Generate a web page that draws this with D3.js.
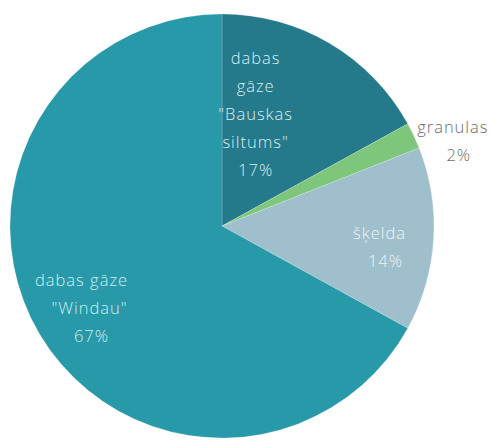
<!DOCTYPE html>
<html><head><meta charset="utf-8">
<script src="https://cdn.jsdelivr.net/npm/d3@7"></script>
<style>body{margin:0;background:#fff}svg{display:block}</style>
</head><body>
<svg id="c" width="492" height="441"></svg>
<script>
const categories = ["dabas gāze \"Bauskas siltums\"", "granulas", "šķelda", "dabas gāze \"Windau\""];
const values = [17, 2, 14, 67];
const labelLines = [["dabas", "gāze", "\"Bauskas", "siltums\"", "17%"], ["granulas", "2%"], ["šķelda", "14%"], ["dabas gāze", "\"Windau\"", "67%"]];
const colors = ["#247a8b", "#7ec67c", "#9ebfcb", "#2899a8"];
const labelColors = ["#d9eef0", "#6a6a6a", "#eef3f5", "#cfeef2"];
// label block centre: [angle (deg clockwise from top), radius]; per-line x shifts
const labelPolar = [[16.6, 116], [70.2, 248], [97.8, 161.5], [-121.6, 158.5]];
const lineShifts = [[0,0,0,0,0],[-3,3],[-3,3],[-6,2,4]];

const W = 492, H = 441, cx = 222, cy = 226, R = 212;
const svg = d3.select("#c");
const g = svg.append("g").attr("transform", `translate(${cx},${cy})`);
const pie = d3.pie().sort(null).value(d => d)(values);
const arc = d3.arc().innerRadius(0).outerRadius(R);
g.selectAll("path").data(pie).join("path")
  .attr("d", arc).attr("fill", (d,i) => colors[i])
  .attr("stroke", "#ffffff").attr("stroke-opacity", 0.3).attr("stroke-width", 0.6);

const lh = 28;
pie.forEach((d, i) => {
  const [a, r] = labelPolar[i];
  const rad = a * Math.PI / 180;
  const x0 = r * Math.sin(rad), y0 = -r * Math.cos(rad);
  const n = labelLines[i].length;
  const t = g.append("text").attr("text-anchor", "middle")
    .attr("font-family", "'Open Sans', sans-serif").attr("font-weight", 300)
    .attr("font-size", 16.5).attr("letter-spacing", 1).attr("fill", labelColors[i]);
  labelLines[i].forEach((s, k) => {
    t.append("tspan").attr("x", x0 + lineShifts[i][k] + 0.5).attr("y", y0 + (k - (n-1)/2) * lh + 5).text(s);
  });
});
</script>
</body></html>
